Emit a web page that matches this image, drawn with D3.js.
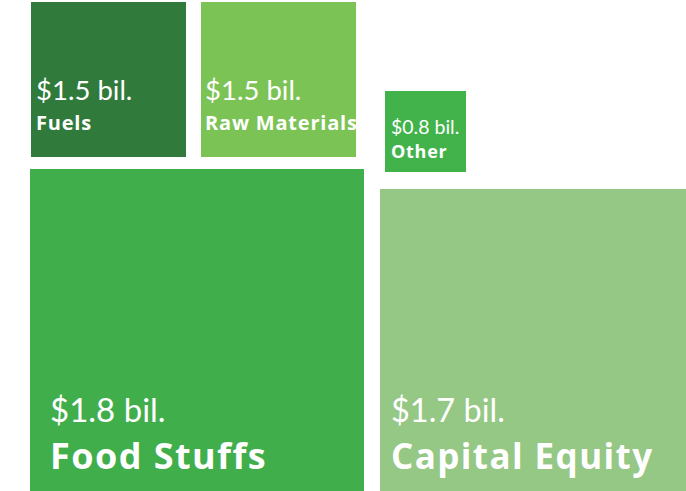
<!DOCTYPE html>
<html>
<head>
<meta charset="utf-8">
<script src="https://cdn.jsdelivr.net/npm/d3@7"></script>
<style>
  body { margin: 0; background: #fff; }
  svg { display: block; }
  .val { fill: #fff; font-family: Lato, "Open Sans", sans-serif; font-weight: 400; }
  .lbl { fill: #fff; font-family: "Open Sans", Lato, sans-serif; font-weight: 700; letter-spacing: 0.04em; }
</style>
</head>
<body>
<svg width="686" height="491"></svg>
<script>
const categories = ["Fuels", "Raw Materials", "Other", "Food Stuffs", "Capital Equity"];
const values = [1.5, 1.5, 0.8, 1.8, 1.7];
const valueLabels = ["$1.5 bil.", "$1.5 bil.", "$0.8 bil.", "$1.8 bil.", "$1.7 bil."];
const colors = ["#307b3c", "#7bc355", "#42b34b", "#41ae4c", "#95c785"];

const svg = d3.select("svg");

// square side from value (hand-drawn infographic, not strictly proportional)
const side = d3.scaleLinear()
    .domain([0.8, 1.5, 1.7, 1.8])
    .range([81, 155, 314, 334]);

// where each square sits, and how the text is set inside it
const layout = {
    "Fuels":          { x: 31,  top: 2,   pad: 5,  vs: 27.5, ls: 20, vy: 100, ly: 130 },
    "Raw Materials":  { x: 201, top: 2,   pad: 4,  vs: 27.5, ls: 20, vy: 100, ly: 130 },
    "Other":          { x: 385, top: 91,  pad: 6,  vs: 19.5, ls: 18, vy: 134, ly: 158 },
    "Food Stuffs":    { x: 30,  top: 169, pad: 20, vs: 33,   ls: 36, vy: 422, ly: 469 },
    "Capital Equity": { x: 380, top: 189, pad: 11, vs: 32.5, ls: 35, vy: 422, ly: 469 }
};

const data = categories.map((c, i) => ({
    name: c, value: values[i], text: valueLabels[i], color: colors[i]
}));

const g = svg.selectAll("g.box")
    .data(data)
    .enter().append("g")
    .attr("class", "box");

g.append("rect")
    .attr("x", d => layout[d.name].x)
    .attr("y", d => layout[d.name].top)
    .attr("width", d => side(d.value))
    .attr("height", d => side(d.value))
    .attr("fill", d => d.color);

g.append("text")
    .attr("class", "val")
    .attr("x", d => layout[d.name].x + layout[d.name].pad)
    .attr("y", d => layout[d.name].vy)
    .style("font-size", d => layout[d.name].vs + "px")
    .text(d => d.text);

g.append("text")
    .attr("class", "lbl")
    .attr("x", d => layout[d.name].x + layout[d.name].pad)
    .attr("y", d => layout[d.name].ly)
    .style("font-size", d => layout[d.name].ls + "px")
    .text(d => d.name);
</script>
</body>
</html>
